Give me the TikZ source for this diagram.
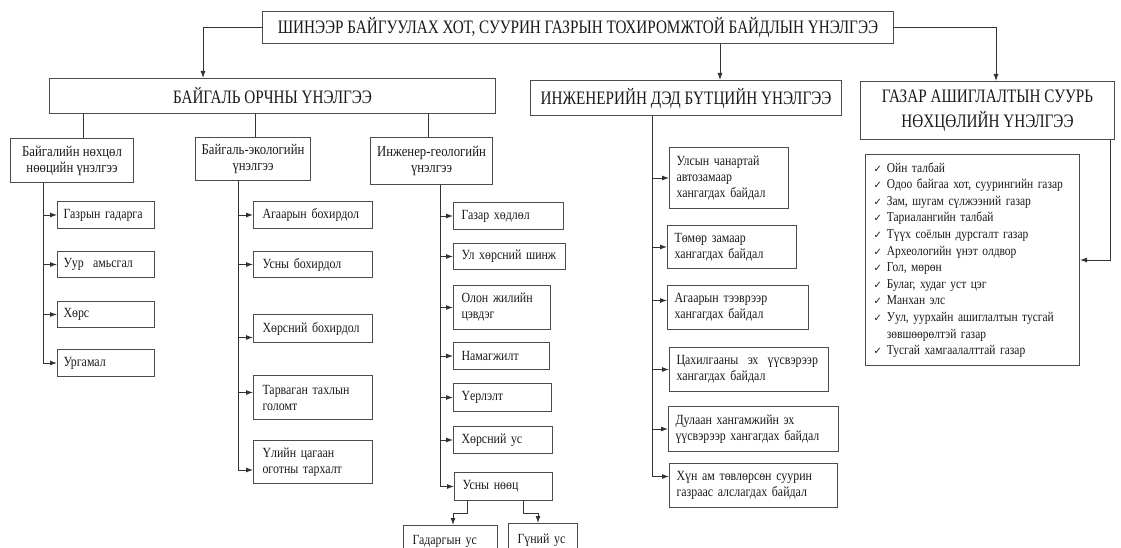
\documentclass[tikz,border=0pt]{standalone}
\usepackage{fontspec}
\setmainfont{Liberation Serif}[FakeStretch=0.85]
\newfontfamily\headfont{Liberation Serif}[FakeStretch=0.8]
\newfontfamily\symfont{DejaVu Sans}
\usetikzlibrary{arrows.meta}

\newcommand\hfnt{\headfont\fontsize{19pt}{25pt}\selectfont}
\newcommand\bfnt{\fontsize{14pt}{16pt}\selectfont}
\newcommand\gfnt{\fontsize{15pt}{16pt}\selectfont}
\newcommand\lfnt{\fontsize{13.5pt}{16.6pt}\selectfont}
\newcommand\chk{{\symfont\fontsize{10pt}{10pt}\selectfont ✓}\hspace{5pt}}

\tikzset{
  box/.style={draw=black!70, line width=1pt, inner sep=0pt, anchor=north west, text=black!90},
  head/.style={box, font=\hfnt, align=center},
  sub/.style={box, font=\gfnt, align=center},
  leaf/.style={box, font=\bfnt, align=left},
  sz/.style 2 args={minimum width=#1pt, minimum height=#2pt},
  tw/.style={text width=#1pt},
  arr/.style={draw=black!80, line width=0.9pt, -{Latex[length=7pt,width=5pt]}},
  wire/.style={draw=black!80, line width=0.9pt},
}

\begin{document}
\begin{tikzpicture}[x=1pt, y=-1pt]
  \useasboundingbox (0,0) rectangle (1121,548);

  % Headings
  \node[head, sz={631}{32}] (goal) at (262,11) {ШИНЭЭР БАЙГУУЛАХ ХОТ, СУУРИН ГАЗРЫН ТОХИРОМЖТОЙ БАЙДЛЫН ҮНЭЛГЭЭ};
  \node[head, sz={446}{35}] (nat)  at (49,78)  {БАЙГАЛЬ ОРЧНЫ ҮНЭЛГЭЭ};
  \node[head, sz={311}{35}] (eng)  at (530,80) {ИНЖЕНЕРИЙН ДЭД БҮТЦИЙН ҮНЭЛГЭЭ};
  \node[head, sz={254}{58}] (land) at (860,81) {ГАЗАР АШИГЛАЛТЫН СУУРЬ\\НӨХЦӨЛИЙН ҮНЭЛГЭЭ};

  % Natural environment groups
  \node[sub, sz={123}{44}] (res) at (10,138)  {Байгалийн нөхцөл\\нөөцийн үнэлгээ};
  \node[sub, sz={115}{43}] (eco) at (195,137) {Байгаль-экологийн\\үнэлгээ};
  \node[sub, sz={122}{47}] (geo) at (370,137) {Инженер-геологийн\\үнэлгээ};

  % Natural resources
  \node[leaf, sz={97}{27}, tw=85] (r1) at (57,201) {Газрын гадарга};
  \node[leaf, sz={97}{26}, tw=85] (r2) at (57,251) {Уур\ \ амьсгал};
  \node[leaf, sz={97}{26}, tw=85] (r3) at (57,301) {Хөрс};
  \node[leaf, sz={97}{27}, tw=85] (r4) at (57,349) {Ургамал};

  % Ecology
  \node[leaf, sz={119}{27}, tw=101] (e1) at (253,201) {Агаарын бохирдол};
  \node[leaf, sz={119}{26}, tw=101] (e2) at (253,251) {Усны бохирдол};
  \node[leaf, sz={119}{28}, tw=101] (e3) at (253,314) {Хөрсний бохирдол};
  \node[leaf, sz={119}{44}, tw=101] (e4) at (253,375) {Тарваган тахлын\\голомт};
  \node[leaf, sz={119}{43}, tw=101] (e5) at (253,440) {Үлийн цагаан\\оготны тархалт};

  % Engineering geology
  \node[leaf, sz={110}{27}, tw=94] (g1) at (453,202) {Газар хөдлөл};
  \node[leaf, sz={112}{26}, tw=96] (g2) at (453,243) {Ул хөрсний шинж};
  \node[leaf, sz={97}{44},  tw=81] (g3) at (453,285) {Олон жилийн\\цэвдэг};
  \node[leaf, sz={96}{27},  tw=80] (g4) at (453,342) {Намагжилт};
  \node[leaf, sz={98}{28},  tw=82] (g5) at (453,383) {Үерлэлт};
  \node[leaf, sz={99}{27},  tw=83] (g6) at (453,426) {Хөрсний ус};
  \node[leaf, sz={98}{28},  tw=82] (g7) at (454,472) {Усны нөөц};
  \node[leaf, sz={94}{32},  tw=76] (w1) at (403,525) {Гадаргын ус};
  \node[leaf, sz={69}{34},  tw=51] (w2) at (508,523) {Гүний ус};

  % Infrastructure
  \node[leaf, sz={119}{61}, tw=105] (i1) at (669,147) {Улсын чанартай\\автозамаар\\хангагдах байдал};
  \node[leaf, sz={129}{43}, tw=115] (i2) at (667,225) {Төмөр замаар\\хангагдах байдал};
  \node[leaf, sz={141}{44}, tw=127] (i3) at (667,285) {Агаарын тээврээр\\хангагдах байдал};
  \node[leaf, sz={159}{44}, tw=145] (i4) at (669,347) {Цахилгааны\ \ эх\ \ үүсвэрээр\\хангагдах байдал};
  \node[leaf, sz={170}{45}, tw=156] (i5) at (668,406) {Дулаан хангамжийн эх\\үүсвэрээр хангагдах байдал};
  \node[leaf, sz={168}{44}, tw=154] (i6) at (669,463) {Хүн ам төвлөрсөн суурин\\газраас алслагдах байдал};

  % Land use
  \node[leaf, font=\lfnt, sz={214}{211}, tw=198] (list) at (865,154)
    {\chk Ойн талбай\\
     \chk Одоо байгаа хот, суурингийн газар\\
     \chk Зам, шугам сүлжээний газар\\
     \chk Тариалангийн талбай\\
     \chk Түүх соёлын дурсгалт газар\\
     \chk Археологийн үнэт олдвор\\
     \chk Гол, мөрөн\\
     \chk Булаг, худаг уст цэг\\
     \chk Манхан элс\\
     \chk Уул, уурхайн ашиглалтын тусгай\\
     \hphantom{\chk}зөвшөөрөлтэй газар\\
     \chk Тусгай хамгаалалттай газар};

  % Connect the headings
  \draw[arr] (goal.west) -| ([xshift=154pt]nat.north west);
  \draw[arr] (goal.east) -| ([xshift=136pt]land.north west);
  \draw[arr] ([xshift=458pt]goal.south west) -- ([xshift=190pt]eng.north west);
  \draw[wire] ([xshift=34pt]nat.south west) -- ([xshift=73pt]res.north west);
  \draw[wire] ([xshift=206pt]nat.south west) -- ([xshift=60pt]eco.north west);
  \draw[wire] ([xshift=379pt]nat.south west) -- ([xshift=58pt]geo.north west);

  % Spines
  \coordinate (s1) at ([xshift=33pt]res.south west);
  \coordinate (s2) at ([xshift=43pt]eco.south west);
  \coordinate (s3) at ([xshift=70pt]geo.south west);
  \coordinate (s4) at ([xshift=122pt]eng.south west);
  \coordinate (e3in) at ([yshift=-9pt]e3.west);
  \coordinate (e4in) at ([yshift=5pt]e4.west);
  \coordinate (e5in) at ([yshift=-8pt]e5.west);
  \coordinate (i3in) at ([yshift=7pt]i3.west);
  \coordinate (i6in) at ([yshift=9pt]i6.west);

  % Connect the items
  \foreach \i in {1,2,3} \draw[arr] (s1 |- r\i.west) -- (r\i.west);
  \draw[arr] (s1) |- (r4.west);
  \foreach \n in {e1.west,e2.west,e3in,e4in} \draw[arr] (s2 |- \n) -- (\n);
  \draw[arr] (s2) |- (e5in);
  \foreach \i in {1,...,6} \draw[arr] (s3 |- g\i.west) -- (g\i.west);
  \draw[arr] (s3) |- (g7.west);
  \draw[arr] ([xshift=13pt]g7.south west) -- ++(0,12) -| ([xshift=50pt]w1.north west);
  \draw[arr] ([xshift=69pt]g7.south west) -- ++(0,12) -| ([xshift=30pt]w2.north west);
  \foreach \n in {i1.west,i2.west,i3in,i4.west,i5.west} \draw[arr] (s4 |- \n) -- (\n);
  \draw[arr] (s4) |- (i6in);
  \draw[arr] ([xshift=250pt]land.south west) |- (list.east);

\end{tikzpicture}
\end{document}
